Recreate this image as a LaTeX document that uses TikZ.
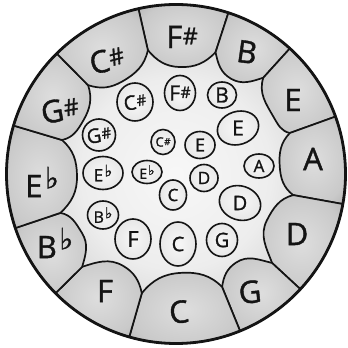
\documentclass[tikz,border=0pt]{standalone}
\usepackage{graphicx}
\usepackage{fontspec}
\setmainfont{Open Sans}[FakeBold=1.2]
\newfontfamily\symfont{DejaVu Sans}[FakeBold=1.2]
\usetikzlibrary{shapes.geometric}
\definecolor{ink}{HTML}{141414}
\pgfdeclareradialshading{drumshade}{\pgfpoint{0bp}{0bp}}{color(0bp)=(white!97!black); color(14bp)=(white!93!black); color(30bp)=(white!75!black); color(50bp)=(white!58!black)}
\pgfdeclareradialshading{padshade}{\pgfpoint{0bp}{0bp}}{color(0bp)=(white!87!black); color(25bp)=(white!79!black); color(50bp)=(white!58!black)}
\pgfdeclareradialshading{knobshade}{\pgfpoint{0bp}{0bp}}{color(0bp)=(white!97!black); color(28bp)=(white!90!black); color(50bp)=(white!72!black)}
\newcommand\shp{\kern0.5pt\raisebox{0.12em}{\scalebox{0.75}{\#}}}
\newcommand\flt{\kern0.08em\raisebox{0.28em}{\scalebox{0.95}{\symfont ♭}}}
\tikzset{
  padline/.style={draw=ink, line width=1.7pt, line join=round, shading=padshade},
  knob/.style={ellipse, draw=ink, line width=1.6pt, shading=knobshade, inner sep=0pt},
  bigl/.style={text=ink, font=\fontsize{31}{31}\selectfont, inner sep=0pt},
  midl/.style={text=ink, font=\fontsize{20}{20}\selectfont, inner sep=0pt},
  smalll/.style={text=ink, font=\fontsize{17}{17}\selectfont, inner sep=0pt}
}
\begin{document}
\begin{tikzpicture}[x=1pt,y=1pt]
\useasboundingbox (0,0) rectangle (348,348);
\fill[white] (0,0) rectangle (348,348);
\coordinate (ctr) at (176,174);
\shade[shading=drumshade] (ctr) circle (169.5pt);
\begin{scope}[shift={(176,174)}]
\foreach \qa/\qra/\qb/\qrb/\qm/\qrm in {
  102.8/127/72/128/88/107,
  72/128/47.8/130/60/110,
  47.8/130/19.8/121/30/113,
  19.8/121/-10.2/119/4/104,
  -10.2/119/-42.8/131/-27/102,
  -42.8/131/-67.8/122/-56/107,
  -67.8/122/-106/124/-87/99,
  -106/124/-135.3/132/-120/106,
  -135.3/132/-161.4/122/-148/111,
  -161.4/122/-196.6/119/-179/99,
  163.4/119/134.7/125/150/107,
  134.7/125/102.8/127/120/107}{
  \pgfmathsetmacro\oa{\qm-90-48}
  \pgfmathsetmacro\ia{\qm+90}
  \pgfmathsetmacro\ob{\qm-90}
  \pgfmathsetmacro\ib{\qm+90+48}
  \shadedraw[padline] (\qa:169.5pt) -- (\qa:\qra pt) to[out=\oa,in=\ia] (\qm:\qrm pt) to[out=\ob,in=\ib] (\qb:\qrb pt) -- (\qb:169.5pt) arc[start angle=\qb, end angle=\qa, radius=169.5pt] -- cycle;
}
\end{scope}
% outer labels
\node[bigl] (lfs) at (182,311) {F\shp};
\node[bigl, rotate=-8] (lb) at (247,296) {B};
\node[bigl] (le) at (293,248) {E};
\node[bigl] (la) at (313,189) {A};
\node[bigl] (ld) at (297,114) {D};
\node[bigl, rotate=6] (lg) at (250,56) {G};
\node[bigl, rotate=8] (lc) at (179,36) {C};
\node[bigl] (lf) at (105,57) {F};
\node[bigl] (lbb) at (55,105) {B\flt};
\node[bigl] (leb) at (42,166) {E\flt};
\node[bigl, rotate=10] (lgs) at (60,238) {G\shp};
\node[bigl, rotate=15] (lcs) at (107,288) {C\shp};
% second ring
\node[knob, minimum width=31pt, minimum height=35pt] (k2fs) at (180,255) {};
\node[knob, minimum width=29pt, minimum height=26pt] (k2b) at (222,253) {};
\node[knob, minimum width=42pt, minimum height=33pt, rotate=18] (k2e) at (238,220) {};
\node[knob, minimum width=30pt, minimum height=24pt] (k2a) at (259,182) {};
\node[knob, minimum width=42pt, minimum height=34pt, rotate=-18] (k2d) at (240,145) {};
\node[knob, minimum width=31pt, minimum height=33pt] (k2g) at (222,108) {};
\node[knob, minimum width=36pt, minimum height=44pt] (k2c) at (178,104) {};
\node[knob, minimum width=36pt, minimum height=40pt] (k2f) at (133,109) {};
\node[knob, minimum width=31pt, minimum height=28pt] (k2bb) at (103,133) {};
\node[knob, minimum width=40pt, minimum height=33pt] (k2eb) at (103,175) {};
\node[knob, minimum width=33pt, minimum height=32pt] (k2gs) at (99,213) {};
\node[knob, minimum width=36pt, minimum height=38pt] (k2cs) at (135,246) {};
\node[midl, font=\fontsize{21}{21}\selectfont] (t2fs) at (k2fs) {F\shp};
\node[midl, font=\fontsize{21}{21}\selectfont] (t2b) at (k2b) {B};
\node[midl, font=\fontsize{21}{21}\selectfont] (t2e) at (k2e) {E};
\node[midl, font=\fontsize{17}{17}\selectfont] (t2a) at (k2a) {A};
\node[midl] (t2d) at (k2d) {D};
\node[midl] (t2g) at (k2g) {G};
\node[midl] (t2c) at (k2c) {C};
\node[midl, font=\fontsize{22}{22}\selectfont] (t2f) at (k2f) {F};
\node[midl, font=\fontsize{16}{16}\selectfont] (t2bb) at (k2bb) {B\flt};
\node[midl, font=\fontsize{17}{17}\selectfont] (t2eb) at (k2eb) {E\flt};
\node[midl, rotate=10] (t2gs) at (k2gs) {G\shp};
\node[midl, rotate=10] (t2cs) at (k2cs) {C\shp};
% inner ring
\node[knob, minimum width=24pt, minimum height=25pt] (k3cs) at (163,206) {};
\node[knob, minimum width=30pt, minimum height=27pt] (k3e) at (200,203) {};
\node[knob, minimum width=30pt, minimum height=23pt] (k3eb) at (147,176) {};
\node[knob, minimum width=28pt, minimum height=27pt] (k3d) at (204,170) {};
\node[knob, minimum width=27pt, minimum height=30pt] (k3c) at (173,153) {};
\node[smalll, font=\fontsize{13}{13}\selectfont] (t3cs) at (k3cs) {C\shp};
\node[smalll, font=\fontsize{18}{18}\selectfont] (t3e) at (k3e) {E};
\node[smalll, font=\fontsize{14}{14}\selectfont] (t3eb) at (k3eb) {E\flt};
\node[smalll] (t3d) at (k3d) {D};
\node[smalll] (t3c) at (k3c) {C};
\draw[ink, line width=2.8pt] (ctr) circle (169.5pt);
\end{tikzpicture}
\end{document}
